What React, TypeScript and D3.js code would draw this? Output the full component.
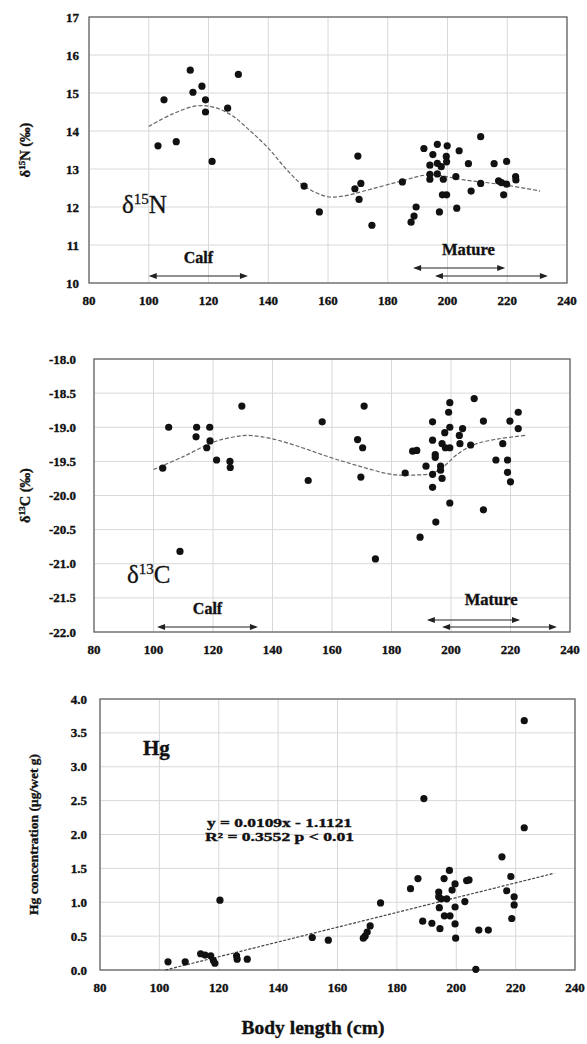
import React from "react";
import * as d3 from "d3";

// ---------- data ----------
const xTickValues = [80, 100, 120, 140, 160, 180, 200, 220, 240];

const n15Ticks = [10, 11, 12, 13, 14, 15, 16, 17];
const n15Points: [number, number][] = [
  [103.1, 13.61], [105.1, 14.82], [109.2, 13.72], [113.9, 15.6], [114.8, 15.02],
  [117.8, 15.18], [119.0, 14.82], [119.0, 14.5], [121.2, 13.2], [126.4, 14.6],
  [130.0, 15.49], [152.0, 12.55], [157.1, 11.87], [170.0, 13.34], [169.0, 12.48],
  [171.0, 12.62], [170.4, 12.2], [174.7, 11.52], [184.9, 12.66], [187.8, 11.6],
  [188.8, 11.76], [189.5, 12.0], [192.1, 13.54], [194.1, 13.1], [194.1, 12.86],
  [194.1, 12.73], [195.1, 13.38], [196.6, 13.65], [196.6, 13.15], [196.6, 12.87],
  [197.3, 11.87], [197.9, 13.06], [198.6, 12.73], [198.3, 12.32], [199.7, 12.32],
  [199.9, 13.61], [199.6, 13.33], [199.7, 13.19], [202.8, 12.8], [203.1, 11.97],
  [203.9, 13.48], [207.0, 13.14], [207.9, 12.42], [211.1, 13.85], [211.1, 12.62],
  [215.6, 13.14], [217.1, 12.69], [218.8, 12.32], [219.8, 13.2], [219.8, 12.6],
  [218.1, 12.64], [222.8, 12.8], [222.9, 12.71],
];
const n15Trend: [number, number][] = [
  [100, 14.12], [108, 14.45], [116, 14.66], [122, 14.62], [128, 14.4], [134, 14.0],
  [140, 13.55], [146, 13.0], [152, 12.55], [160, 12.27], [166, 12.3], [172, 12.42],
  [184, 12.67], [194, 12.85], [205, 12.72], [220, 12.57], [231, 12.42],
];

const c13Ticks = [-22, -21.5, -21, -20.5, -20, -19.5, -19, -18.5, -18];
const c13Points: [number, number][] = [
  [103.1, -19.6], [105.1, -19.0], [108.9, -20.82], [114.5, -19.0], [114.3, -19.14],
  [118.9, -19.0], [119.0, -19.2], [117.9, -19.3], [121.2, -19.48], [125.7, -19.5],
  [125.8, -19.59], [129.7, -18.69], [152.0, -19.78], [156.7, -18.92], [170.8, -18.69],
  [168.6, -19.18], [170.3, -19.3], [169.7, -19.73], [174.6, -20.93], [184.6, -19.67],
  [187.1, -19.35], [188.5, -19.34], [189.6, -20.61], [191.6, -19.57], [193.8, -18.92],
  [193.8, -19.19], [193.8, -19.69], [193.8, -19.88], [194.7, -19.4], [194.7, -19.44],
  [194.9, -20.39], [196.5, -19.57], [196.5, -19.63], [197.0, -19.75], [197.0, -19.24],
  [197.9, -19.08], [198.1, -19.3], [199.2, -18.78], [199.6, -18.64], [199.6, -19.0],
  [199.6, -19.3], [199.6, -20.11], [202.8, -19.12], [203.9, -19.02], [203.0, -19.24],
  [206.6, -19.26], [207.8, -18.58], [210.9, -18.91], [210.9, -20.21], [215.1, -19.48],
  [217.4, -19.24], [219.0, -19.48], [219.0, -19.66], [219.8, -18.91], [220.0, -19.8],
  [222.6, -18.78], [222.6, -19.02],
];
const c13Trend: [number, number][] = [
  [100, -19.62], [110, -19.43], [120, -19.22], [126, -19.15], [132, -19.12],
  [140, -19.17], [150, -19.3], [160, -19.45], [170, -19.58], [180, -19.69],
  [188, -19.7], [194, -19.67], [198, -19.56], [202, -19.4], [208, -19.25],
  [216, -19.17], [225, -19.12],
];

const hgTicks = [0, 0.5, 1, 1.5, 2, 2.5, 3, 3.5, 4];
const hgPoints: [number, number][] = [
  [102.9, 0.12], [108.7, 0.12], [113.9, 0.24], [115.4, 0.22], [117.3, 0.21],
  [118.2, 0.14], [118.7, 0.1], [120.4, 1.03], [126.0, 0.21], [126.2, 0.16],
  [129.6, 0.16], [151.5, 0.48], [156.9, 0.44], [168.7, 0.47], [169.3, 0.5],
  [170.0, 0.56], [171.0, 0.65], [174.5, 0.99], [184.6, 1.2], [187.1, 1.35],
  [189.1, 2.53], [188.7, 0.72], [191.8, 0.69], [194.1, 1.15], [194.1, 1.08],
  [194.3, 0.92], [194.5, 0.61], [194.9, 1.05], [195.9, 1.35], [196.0, 0.8],
  [196.8, 1.05], [197.7, 1.47], [197.9, 0.8], [198.6, 1.18], [199.6, 1.27],
  [199.6, 0.93], [199.6, 0.68], [199.8, 0.47], [202.9, 1.01], [203.5, 1.32],
  [204.3, 1.33], [206.6, 0.01], [207.6, 0.59], [210.8, 0.59], [215.4, 1.67],
  [217.0, 1.17], [218.4, 1.38], [218.7, 0.76], [219.5, 1.08], [219.5, 0.96],
  [222.9, 3.68], [222.9, 2.1],
];
const hgSlope = 0.0109;
const hgIntercept = -1.1121;
const hgFitRange = [102, 233];

// ---------- chart ----------
const FONT = "'Liberation Serif', 'Times New Roman', serif";
const HEAVY = { stroke: "#111", strokeWidth: 0.35 };

type Arrow = { from: number; to: number; dy: number };
type PanelProps = {
  box: { left: number; right: number; top: number; bottom: number };
  yDomain: [number, number];
  yTicks: number[];
  yFormat: (v: number) => string;
  points: [number, number][];
  trend?: [number, number][];
  fit?: [number, number][];
  yTitle: React.ReactNode;
  yTitleX: number;
  yLabelGap: number;
  calf?: { from: number; to: number; dy: number; labelDy: number };
  mature?: { arrows: Arrow[]; labelX: number; labelDy: number };
  children?: React.ReactNode;
};

function ArrowLine({ x1, x2, y }: { x1: number; x2: number; y: number }) {
  const h = 8, w = 3;
  return (
    <g>
      <line x1={x1 + 2} x2={x2 - 2} y1={y} y2={y} stroke="#222" strokeWidth={1.2} />
      <path d={`M${x1},${y}L${x1 + h},${y - w}L${x1 + h},${y + w}Z`} fill="#222" />
      <path d={`M${x2},${y}L${x2 - h},${y - w}L${x2 - h},${y + w}Z`} fill="#222" />
    </g>
  );
}

function Panel(p: PanelProps) {
  const { box } = p;
  const x = d3.scaleLinear().domain([80, 240]).range([box.left, box.right]);
  const y = d3.scaleLinear().domain(p.yDomain).range([box.bottom, box.top]);
  const line = d3.line<[number, number]>().x(d => x(d[0])).y(d => y(d[1])).curve(d3.curveCatmullRom);
  const straight = d3.line<[number, number]>().x(d => x(d[0])).y(d => y(d[1]));
  const midY = (box.top + box.bottom) / 2;
  return (
    <g>
      {xTickValues.map(v => (
        <line key={"gx" + v} x1={x(v)} x2={x(v)} y1={box.top} y2={box.bottom} stroke="#d8d8d8" strokeWidth={1} />
      ))}
      {p.yTicks.map(v => (
        <line key={"gy" + v} x1={box.left} x2={box.right} y1={y(v)} y2={y(v)} stroke="#d8d8d8" strokeWidth={1} />
      ))}
      <rect x={box.left} y={box.top} width={box.right - box.left} height={box.bottom - box.top}
        fill="none" stroke="#666" strokeWidth={1.3} />
      {p.yTicks.map(v => (
        <text key={"ly" + v} x={box.left - p.yLabelGap} y={y(v)} dy="0.35em" textAnchor="end"
          fontFamily={FONT} fontWeight="bold" fontSize={13} fill="#111" {...HEAVY}>{p.yFormat(v)}</text>
      ))}
      {xTickValues.map(v => (
        <text key={"lx" + v} x={x(v)} y={box.bottom + 22} textAnchor="middle"
          fontFamily={FONT} fontWeight="bold" fontSize={13} fill="#111" {...HEAVY}>{v}</text>
      ))}
      <text transform={`translate(${p.yTitleX},${midY}) rotate(-90)`} textAnchor="middle"
        fontFamily={FONT} fontWeight="bold" fontSize={14.5} fill="#111" {...HEAVY}>{p.yTitle}</text>
      {p.trend && (
        <path d={line(p.trend) || ""} fill="none" stroke="#666" strokeWidth={1.2} strokeDasharray="4,2" />
      )}
      {p.fit && (
        <path d={straight(p.fit) || ""} fill="none" stroke="#444" strokeWidth={1.2} strokeDasharray="3,1.5" />
      )}
      {p.points.map((d, i) => (
        <circle key={i} cx={x(d[0])} cy={y(d[1])} r={3.6} fill="#111" />
      ))}
      {p.calf && (
        <g>
          <text x={(x(p.calf.from) + x(p.calf.to)) / 2} y={box.bottom - p.calf.labelDy} textAnchor="middle"
            fontFamily={FONT} fontWeight="bold" fontSize={16} fill="#111" {...HEAVY}>Calf</text>
          <ArrowLine x1={x(p.calf.from)} x2={x(p.calf.to)} y={box.bottom - p.calf.dy} />
        </g>
      )}
      {p.mature && (
        <g>
          <text x={x(p.mature.labelX)} y={box.bottom - p.mature.labelDy} textAnchor="middle"
            fontFamily={FONT} fontWeight="bold" fontSize={16.5} fill="#111" {...HEAVY}>Mature</text>
          {p.mature.arrows.map((a, i) => (
            <ArrowLine key={i} x1={x(a.from)} x2={x(a.to)} y={box.bottom - a.dy} />
          ))}
        </g>
      )}
      {p.children}
    </g>
  );
}

export default function App() {
  const fmt1 = (v: number) => d3.format(".1f")(v).replace("−", "-");
  const fit: [number, number][] = hgFitRange.map(v => [v, hgSlope * v + hgIntercept]);
  return (
    <svg width={587} height={1044} style={{ position: "absolute", left: 0, top: 0, background: "#fff" }}>
      <rect width={587} height={1044} fill="#fff" />
      <Panel
        box={{ left: 89, right: 567, top: 17, bottom: 283 }}
        yDomain={[10, 17]}
        yTicks={n15Ticks}
        yFormat={v => String(v)}
        points={n15Points}
        trend={n15Trend}
        yTitleX={30}
        yLabelGap={10}
        yTitle={<><tspan>δ</tspan><tspan fontSize={9} dy={-5}>15</tspan><tspan dy={5}>N (‰)</tspan></>}
        calf={{ from: 100, to: 133.2, dy: 7, labelDy: 20 }}
        mature={{ arrows: [{ from: 188.5, to: 219.3, dy: 15 }, { from: 195.8, to: 233.6, dy: 7 }], labelX: 207, labelDy: 28 }}
      >
        <text x={122} y={213} fontFamily={FONT} fontSize={25} fill="#111" stroke="#111" strokeWidth={0.3}>
          δ<tspan fontSize={15} dy={-9}>15</tspan><tspan dy={9}>N</tspan>
        </text>
      </Panel>
      <Panel
        box={{ left: 94, right: 570, top: 359, bottom: 632 }}
        yDomain={[-22, -18]}
        yTicks={c13Ticks}
        yFormat={fmt1}
        points={c13Points}
        trend={c13Trend}
        yTitleX={30}
        yLabelGap={18}
        yTitle={<><tspan>δ</tspan><tspan fontSize={9} dy={-5}>13</tspan><tspan dy={5}>C (‰)</tspan></>}
        calf={{ from: 101.2, to: 135.1, dy: 5, labelDy: 18 }}
        mature={{ arrows: [{ from: 191.9, to: 223.2, dy: 12 }, { from: 197.0, to: 235.6, dy: 5 }], labelX: 213.5, labelDy: 27 }}
      >
        <text x={127} y={583} fontFamily={FONT} fontSize={25} fill="#111" stroke="#111" strokeWidth={0.3}>
          δ<tspan fontSize={15} dy={-9}>13</tspan><tspan dy={9}>C</tspan>
        </text>
      </Panel>
      <Panel
        box={{ left: 100, right: 575, top: 699, bottom: 970 }}
        yDomain={[0, 4]}
        yTicks={hgTicks}
        yFormat={fmt1}
        points={hgPoints}
        fit={fit}
        yTitleX={38}
        yLabelGap={13}
        yTitle={<tspan fontSize={13.5}>Hg concentration (μg/wet g)</tspan>}
      >
        <g fontFamily={FONT} fontWeight="bold" fill="#111" {...HEAVY}>
          <text x={143} y={755} fontSize={21}>Hg</text>
          <text x={207} y={827} fontSize={12} textLength={145} lengthAdjust="spacingAndGlyphs">y = 0.0109x - 1.1121</text>
          <text x={205} y={841} fontSize={12} textLength={149} lengthAdjust="spacingAndGlyphs">R² = 0.3552  p &lt; 0.01</text>
        </g>
      </Panel>
      <text x={313} y={1034} textAnchor="middle" fontFamily={FONT} fontWeight="bold" fontSize={19.5} fill="#111" {...HEAVY}>
        Body length (cm)
      </text>
    </svg>
  );
}
